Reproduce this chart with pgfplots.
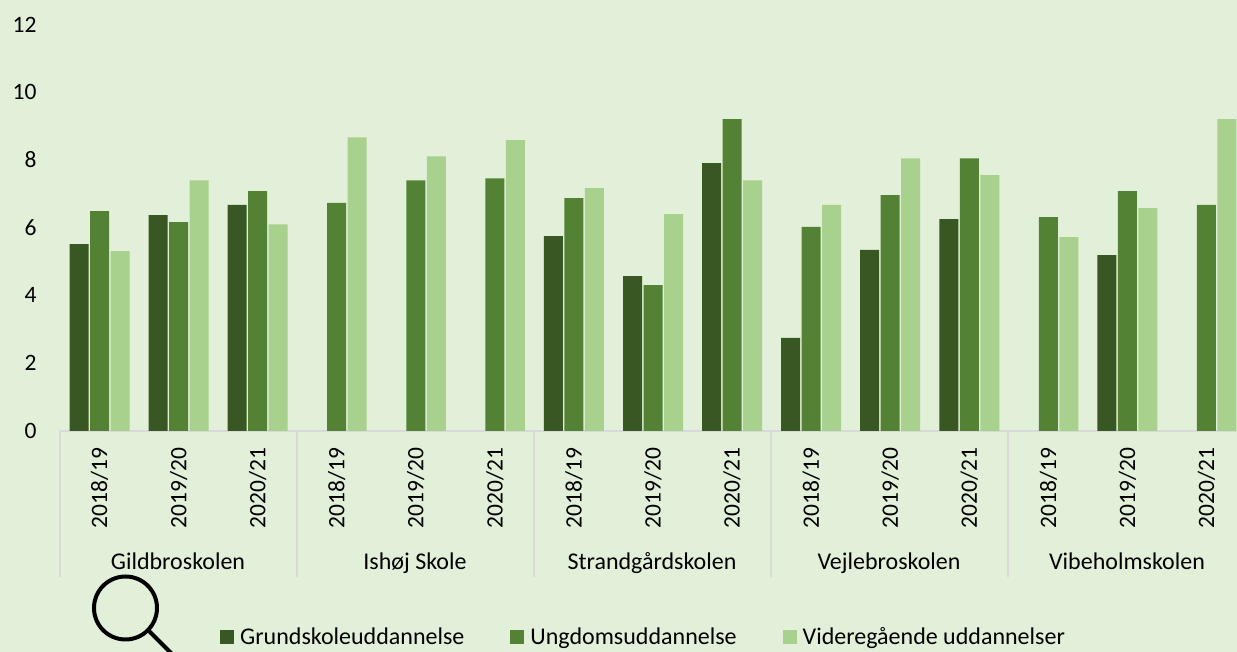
\documentclass[border=0pt]{standalone}
\usepackage{fontspec}
\setmainfont{Carlito}
\usepackage{pgfplots}
\pgfplotsset{compat=1.18}
\definecolor{bgc}{HTML}{E2F0D9}
\definecolor{gA}{HTML}{385723}
\definecolor{gB}{HTML}{548235}
\definecolor{gC}{HTML}{A9D18E}
\definecolor{sep}{HTML}{D9D9D9}
\begin{document}
\begin{tikzpicture}[x=1pt,y=1pt,font=\fontsize{24}{28}\selectfont]
\path[use as bounding box,fill=bgc] (0,0) rectangle (1237,652);
\draw[black,line width=4pt] (125.5,44) circle (31.5);
\draw[black,line width=4pt] (149,21) -- (176,-6);
\begin{axis}[at={(60pt,221pt)},anchor=south west,scale only axis,
 width=1177pt,height=406pt,
 xmin=-0.5,xmax=14.386,ymin=0,ymax=12,
 ybar=1.5pt,bar width=19pt,
 axis x line*=bottom,axis y line*=left,
 axis line style={sep,line width=1.5pt},
 y axis line style={draw=none},
 x axis line style={-},
 ytick={0,2,...,12},
 xtick={0,...,14},
 xticklabels={2018/19,2019/20,2020/21,2018/19,2019/20,2020/21,2018/19,2019/20,2020/21,2018/19,2019/20,2020/21,2018/19,2019/20,2020/21},
 major tick length=0pt,
 tick style={draw=none},
 /pgf/number format/assume math mode=true,
 ticklabel style={font=\fontsize{23.5}{27}\selectfont},
 yticklabel style={anchor=east,xshift=-20pt,yshift=0.3pt},
 xticklabel style={rotate=90,anchor=east,yshift=0pt,xshift=-13pt},
 legend columns=3,
 legend style={at={(160pt,-206pt)},anchor=west,draw=none,fill=none,
   font=\fontsize{24}{28}\selectfont,inner sep=0pt,
   /tikz/every odd column/.append style={column sep=4pt},
   /tikz/every even column/.append style={column sep=44pt}},
 legend cell align=left,
 legend image code/.code={\fill[#1] (0pt,-7pt) rectangle (14pt,7pt);},
 clip=true,
]
\addplot[fill=gA,draw=none] coordinates {(0,5.52)(1,6.38)(2,6.68)(6,5.76)(7,4.58)(8,7.92)(9,2.75)(10,5.35)(11,6.26)(13,5.2)};
\addplot[fill=gB,draw=none] coordinates {(0,6.5)(1,6.17)(2,7.09)(3,6.74)(4,7.41)(5,7.47)(6,6.88)(7,4.31)(8,9.22)(9,6.03)(10,6.97)(11,8.06)(12,6.32)(13,7.09)(14,6.68)};
\addplot[fill=gC,draw=none] coordinates {(0,5.32)(1,7.41)(2,6.11)(3,8.68)(4,8.12)(5,8.6)(6,7.18)(7,6.41)(8,7.41)(9,6.68)(10,8.06)(11,7.56)(12,5.73)(13,6.59)(14,9.22)};
\legend{Grundskoleuddannelse,Ungdomsuddannelse,Videregående uddannelser}
\end{axis}
\foreach \x in {60,297,534,771,1008} \draw[sep,line width=1.5pt] (\x,221) -- (\x,75);
\node[anchor=base] at (178,82.5) {Gildbroskolen};
\node[anchor=base] at (415,82.5) {Ishøj Skole};
\node[anchor=base] at (652,82.5) {Strandgårdskolen};
\node[anchor=base] at (889,82.5) {Vejlebroskolen};
\node[anchor=base] at (1127,82.5) {Vibeholmskolen};
\end{tikzpicture}
\end{document}
